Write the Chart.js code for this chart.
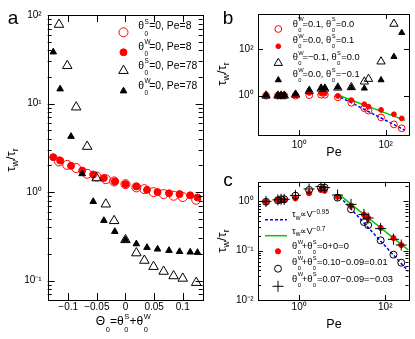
<!DOCTYPE html>
<html><head><meta charset="utf-8">
<script src="https://cdn.jsdelivr.net/npm/chart.js@4.4.1/dist/chart.umd.min.js"></script>
<style>
html,body{margin:0;padding:0;background:#fff}
body{width:415px;height:339px;position:relative;overflow:hidden;font-family:"Liberation Sans",Arial,Helvetica,sans-serif;color:#000}
canvas{position:absolute;left:0;top:0}
.t{position:absolute;white-space:nowrap;line-height:1}
.ss{display:inline-block;position:relative;width:0.8em;height:0;font-size:0.62em}
.ss.n{width:0.65em}
.ss b,.ss i{position:absolute;left:0.08em;font-weight:normal;font-style:normal;line-height:1}
.ss b{bottom:0.62em}
.ss i{top:0.2em}
.sub{font-size:0.7em;position:relative;top:0.35em}
.sup{font-size:0.7em;position:relative;top:-0.45em}
svg{position:absolute;left:0;top:0;overflow:visible}
</style></head><body>
<canvas id="ca" width="415" height="339"></canvas>
<canvas id="cb" width="415" height="339"></canvas>
<canvas id="cc" width="415" height="339"></canvas>
<svg width="415" height="339" id="sym"></svg>
<div id="ov"></div>
<script>
// ---------------- data ----------------
// panel a: Theta0 values of the theta0^S=0 series and of the theta0^W=0 series
const thetaA_S0 = [-0.116, -0.1016, -0.086, -0.0668, -0.0504, -0.0343, -0.0198, 0, 0.019, 0.033, 0.049, 0.0666, 0.084, 0.100, 0.1235];
const thetaA_W0 = [-0.126, -0.114, -0.095, -0.0755, -0.0563, -0.0377, -0.0186, 0, 0.019, 0.0376, 0.056, 0.076, 0.0944, 0.113, 0.1257];
const aS0Pe8  = [2.22, 2.03, 1.87, 1.61, 1.50, 1.40, 1.32, 1.23, 1.13, 1.08, 1.00, 0.95, 0.91, 0.88, 0.82];
const aW0Pe8  = [2.48, 2.27, 1.98, 1.75, 1.58, 1.44, 1.32, 1.23, 1.16, 1.06, 1.00, 0.97, 0.95, 0.92, 0.87];
const aS0Pe78 = [78, 26.7, 9.1, 3.27, 1.44, 0.73, 0.474, 0.289, 0.205, 0.169, 0.144, 0.127, 0.113, 0.106, 0.095];
const aW0Pe78 = [38.2, 14.6, 4.25, 1.61, 0.783, 0.478, 0.359, 0.289, 0.26, 0.237, 0.227, 0.219, 0.213, 0.21, 0.208];
const aXTicks = [-0.1, -0.05, 0, 0.05, 0.1];
const aXLabels = ['−0.1', '−0.05', '0', '0.05', '0.1'];
const aYTicks = [100, 10, 1, 0.1];
const aYLabels = ['10²', '10¹', '10⁰', '10⁻¹'];

// panels b, c: Peclet numbers
const pe = [0.17, 0.32, 0.38, 0.45, 0.82, 1.7, 3.2, 3.9, 7.8, 16, 32, 40, 78, 155, 235];
const bW01_S00  = [1.0, 1.0, 1.0, 1.0, 1.0, 1.05, 1.1, 1.1, 0.85, 0.5, 0.29, 0.23, 0.118, 0.059, 0.04];
const bW00_S01  = [1.0, 1.0, 1.0, 1.0, 1.05, 1.3, 1.27, 1.25, 0.97, 0.65, 0.43, 0.34, 0.245, 0.16, 0.107];
const bWm01_S00 = [1.0, 1.0, 1.0, 1.0, 1.1, 1.6, 2.0, 2.0, 2.2, 2.3, 4.0, 5.2, 29, 1200, null];
const bW00_Sm01 = [1.05, 1.05, 1.05, 1.05, 1.2, 1.76, 2.07, 2.07, 2.3, 2.2, 2.07, null, 4.7, 47, 500];
const cSum0    = [0.98, 1.06, 1.05, 1.05, 1.15, 1.46, 1.7, 1.64, 1.24, 0.81, 0.54, 0.46, 0.29, 0.18, 0.13];
const cSum001  = [0.98, 1.05, 1.1, 1.1, 1.3, 1.7, 1.9, 1.9, 1.19, 0.69, 0.38, 0.33, 0.162, 0.083, 0.057];
const cSumm003 = [1.0, 1.07, 1.1, 1.1, 1.32, 1.78, 1.99, 1.9, 1.34, 0.87, 0.54, 0.46, 0.28, 0.17, 0.13];
// guide lines (end points)
const bFitPe = [9, 280];
const bFit095 = [0.86, 0.033];
const bFit07 = [0.97, 0.088];
const cFitPe = [8.8, 346];
const cFit095 = [1.24, 0.038];
const cFit07 = [1.34, 0.1025];
const bYTicks = [100, 1];
const bYLabels = ['10²', '10⁰'];
const peTicks = [1, 100];
const peLabels = ['10⁰', '10²'];
const cYTicks = [1, 0.1, 0.01];
const cYLabels = ['10⁰', '10⁻¹', '10⁻²'];

// ---------------- helpers ----------------
const FONT = '"Liberation Sans", Arial, Helvetica, sans-serif';
const RED = '#ff0000', CLEAR = 'rgba(255,255,255,0)';
const pts = (xs, ys) => xs.map((x, i) => ({x, y: ys[i]})).filter(p => p.y != null);
const mk = (data, style, r, color, filled, order) => ({
  type: 'scatter', data, showLine: false, pointStyle: style, pointRadius: r,
  pointBorderColor: color, pointBackgroundColor: filled ? color : CLEAR,
  pointBorderWidth: 1, borderColor: color, backgroundColor: filled ? color : CLEAR, order
});
const line = (data, color, dash) => ({
  type: 'line', data, showLine: true, pointRadius: 0, borderColor: color,
  borderWidth: 1.5, borderDash: dash || [], fill: false, tension: 0, order: 10
});

function logRange(min, max) {
  const maj = [], mn = [];
  for (let e = Math.floor(Math.log10(min)); e <= Math.ceil(Math.log10(max)); e++) {
    const d = Math.pow(10, e);
    if (d >= min && d <= max) maj.push(d);
    for (let k = 2; k <= 9; k++) { const v = k * d; if (v > min && v < max) mn.push(v); }
  }
  return {maj, mn};
}

const frameTicks = {
  id: 'frameTicks',
  afterDatasetsDraw(chart, args, o) {
    const {ctx, chartArea: A} = chart;
    const xs = chart.scales.x, ys = chart.scales.y;
    ctx.save();
    ctx.strokeStyle = '#000'; ctx.lineWidth = 1;
    ctx.beginPath();
    const seg = (x1, y1, x2, y2) => { ctx.moveTo(x1, y1); ctx.lineTo(x2, y2); };
    const xt = (vals, len) => vals.forEach(v => { const p = Math.round(xs.getPixelForValue(v)) + 0.5;
      seg(p, A.bottom, p, A.bottom - len); seg(p, A.top, p, A.top + len); });
    const yt = (vals, len) => vals.forEach(v => { const p = Math.round(ys.getPixelForValue(v)) + 0.5;
      seg(A.left, p, A.left + len, p); seg(A.right, p, A.right - len, p); });
    xt(o.xMaj || [], o.maj); xt(o.xMin || [], o.min);
    yt(o.yMaj || [], o.maj); yt(o.yMin || [], o.min);
    ctx.stroke();
    ctx.strokeRect(Math.round(A.left) + 0.5, Math.round(A.top) + 0.5, Math.round(A.right - A.left), Math.round(A.bottom - A.top));
    ctx.restore();
  }
};

function axis(type, min, max, ticks, labels, isX, pad, size) {
  return {
    type, min, max, display: true,
    grid: {display: false, drawTicks: false}, border: {display: false},
    ticks: {
      autoSkip: false, maxRotation: 0, minRotation: 0, padding: pad, color: '#000',
      font: {family: FONT, size: 10},
      callback: (v) => { const i = ticks.indexOf(v); return i >= 0 ? labels[i] : ''; }
    },
    afterBuildTicks: s => { s.ticks = ticks.map(v => ({value: v})); },
    afterFit: s => { if (isX) s.height = size; else s.width = size; }
  };
}

function makeChart(id, datasets, xAx, yAx, padding, tickOpts) {
  return new Chart(document.getElementById(id), {
    data: {datasets},
    options: {
      responsive: false, animation: false, devicePixelRatio: 1,
      layout: {padding},
      plugins: {legend: {display: false}, tooltip: {enabled: false}, frameTicks: tickOpts},
      scales: {x: xAx, y: yAx}
    },
    plugins: [frameTicks]
  });
}

// ---------------- panel a ----------------
const aYmin = 0.0605, aYmax = 100;
const aLog = logRange(aYmin, aYmax);
makeChart('ca', [
  mk(pts(thetaA_S0, aS0Pe8), 'circle', 4.5, RED, false, 4),
  mk(pts(thetaA_W0, aW0Pe8), 'circle', 3.5, RED, true, 3),
  mk(pts(thetaA_S0, aS0Pe78), 'triangle', 5.5, '#000', false, 2),
  mk(pts(thetaA_W0, aW0Pe78), 'triangle', 3.8, '#000', true, 1)
],
  axis('linear', -0.1357, 0.1348, aXTicks, aXLabels, true, 1, 39),
  axis('logarithmic', aYmin, aYmax, aYTicks, aYLabels, false, 6, 47.7),
  {left: 0, top: 15, right: 415 - 202.7, bottom: 0},
  {xMaj: aXTicks, yMaj: aLog.maj, yMin: aLog.mn, maj: 7, min: 4});

// ---------------- panel b ----------------
const peMin = 0.1107, peMax = 346;
const bYmin = 0.0207, bYmax = 3162;
makeChart('cb', [
  mk(pts(pe, bW01_S00), 'circle', 3.4, RED, false, 4),
  mk(pts(pe, bW00_S01), 'circle', 2.4, RED, true, 3),
  mk(pts(pe, bWm01_S00), 'triangle', 4.8, '#000', false, 2),
  mk(pts(pe, bW00_Sm01), 'triangle', 3.5, '#000', true, 1),
  line(pts(bFitPe, bFit07), '#00cc00'),
  line(pts(bFitPe, bFit095), '#0000ff', [3, 2])
],
  axis('logarithmic', peMin, peMax, peTicks, peLabels, true, 4, 30),
  axis('logarithmic', bYmin, bYmax, bYTicks, bYLabels, false, 4.5, 258),
  {left: 0, top: 14, right: 6, bottom: 339 - 135 - 30},
  {xMaj: peTicks, yMaj: bYTicks, maj: 5, min: 3});

// ---------------- panel c ----------------
const cYmin = 0.01, cYmax = 2.5;
const cLog = logRange(cYmin, cYmax);
makeChart('cc', [
  mk(pts(pe, cSum0), 'circle', 2.6, RED, true, 3),
  mk(pts(pe, cSum001), 'circle', 3.5, '#000', false, 2),
  mk(pts(pe, cSumm003), 'cross', 5.5, '#000', false, 1),
  line(pts(cFitPe, cFit07), '#00cc00'),
  line(pts(cFitPe, cFit095), '#0000ff', [3, 2])
],
  axis('logarithmic', peMin, peMax, peTicks, peLabels, true, 1, 39),
  axis('logarithmic', cYmin, cYmax, cYTicks, cYLabels, false, 4.5, 258),
  {left: 0, top: 181.7, right: 6, bottom: 0},
  {xMaj: peTicks, yMaj: cLog.maj, yMin: cLog.mn, maj: 5, min: 3});

// ---------------- text overlays ----------------
const th = s => `θ<span class="ss"><b>${s}</b><i>0</i></span>`;
const ov = document.getElementById('ov');
function txt(html, x, y, size, align) {
  const d = document.createElement('div');
  d.className = 't';
  d.innerHTML = html;
  d.style.left = x + 'px'; d.style.top = y + 'px'; d.style.fontSize = size + 'px';
  const tx = align === 'left' ? '0' : '-50%';
  d.style.transform = `translate(${tx},-50%)`;
  ov.appendChild(d);
  return d;
}
// panel letters
txt('a', 13, 17, 19, 'c');
txt('b', 228, 17, 19, 'c');
txt('c', 228, 179, 19, 'c');
// axis titles
txt('Θ<span class="ss n"><i>0</i></span>=' + th('S') + '+' + th('W'), 122.5, 321, 12, 'c');
txt('Pe', 334, 152, 12.5, 'c');
txt('Pe', 334, 324, 12.5, 'c');
function ytitle(x, y) {
  const d = document.createElement('div');
  d.className = 't';
  d.innerHTML = 'τ<span class="sub">w</span>/τ<span class="sub">r</span>';
  d.style.fontSize = '13px';
  d.style.left = x + 'px'; d.style.top = y + 'px';
  d.style.transform = 'translate(-50%,-50%) rotate(-90deg)';
  ov.appendChild(d);
}
ytitle(11, 160); ytitle(222, 74); ytitle(222, 241);

// legend a
const legA = [th('S') + '=0, Pe=8', th('W') + '=0, Pe=8', th('S') + '=0, Pe=78', th('W') + '=0, Pe=78'];
const legAy = [26.3, 46.7, 65.5, 85.5];
legA.forEach((h, i) => txt(h, 138.3, legAy[i], 10.4, 'left'));
// legend b
const legB = [th('W') + '=0.1, ' + th('S') + '=0.0', th('W') + '=0.0, ' + th('S') + '=0.1',
              th('W') + '=−0.1, ' + th('S') + '=0.0', th('W') + '=0.0, ' + th('S') + '=−0.1'];
const legBy = [24.5, 41.3, 58, 75];
legB.forEach((h, i) => txt(h, 292.7, legBy[i], 9.3, 'left'));
// legend c
const th2 = th('W') + '+' + th('S');
const legC = ['τ<span class="sub">w</span>∝V<span class="sup">−0.95</span>', 'τ<span class="sub">w</span>∝V<span class="sup">−0.7</span>',
              th2 + '=0+0=0', th2 + '=0.10−0.09=0.01', th2 + '=0.07−0.09=−0.03'];
const legCy = [215.3, 232, 247.3, 263, 279.7];
legC.forEach((h, i) => txt(h, 292, legCy[i], 9.3, 'left'));

// legend symbols (svg)
const svg = document.getElementById('sym');
const NS = 'http://www.w3.org/2000/svg';
function el(tag, attrs) { const e = document.createElementNS(NS, tag); for (const k in attrs) e.setAttribute(k, attrs[k]); svg.appendChild(e); }
function circ(x, y, r, c, f) { el('circle', {cx: x, cy: y, r, stroke: c, fill: f ? c : 'none', 'stroke-width': 1}); }
function tri(x, y, r, c, f) {
  const p = [[x, y - r], [x - 0.866 * r, y + 0.5 * r], [x + 0.866 * r, y + 0.5 * r]].map(q => q.join(',')).join(' ');
  el('polygon', {points: p, stroke: c, fill: f ? c : 'none', 'stroke-width': 1});
}
function plus(x, y, r) { el('path', {d: `M${x - r},${y}H${x + r}M${x},${y - r}V${y + r}`, stroke: '#000', 'stroke-width': 1}); }
function seg(x1, x2, y, c, dash) { el('line', {x1, x2, y1: y, y2: y, stroke: c, 'stroke-width': 1.5, 'stroke-dasharray': dash || 'none'}); }
circ(123.5, 32.3, 4.5, RED, false); circ(123.5, 52.3, 3.5, RED, true);
tri(123.5, 70.7, 5.5, '#000', false); tri(123.5, 91, 3.8, '#000', true);
circ(278.3, 29, 3.4, RED, false); circ(278.3, 46.3, 2.4, RED, true);
tri(278.3, 63, 4.8, '#000', false); tri(278.3, 80, 3.5, '#000', true);
seg(265, 287, 219.7, '#0000ff', '3,2'); seg(265, 287, 235.7, '#00cc00');
circ(278, 251.3, 2.6, RED, true); circ(278, 268.7, 3.5, '#000', false); plus(278, 286.3, 5.5);
</script>
</body></html>
